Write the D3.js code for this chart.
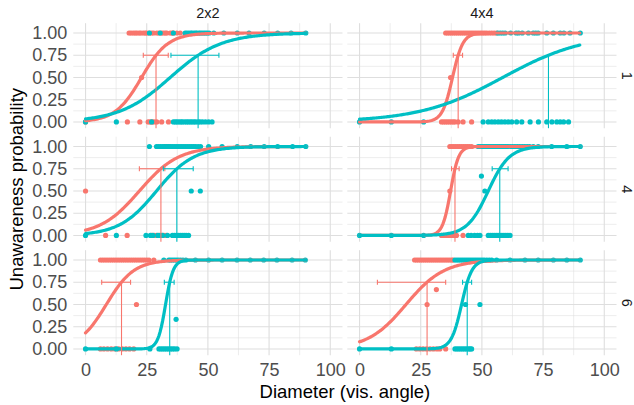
<!DOCTYPE html>
<html>
<head>
<meta charset="utf-8">
<script src="https://cdn.jsdelivr.net/npm/d3@7"></script>
<style>
  html, body { margin: 0; padding: 0; background: #fff; }
  svg { display: block; font-family: "Liberation Sans", Arial, sans-serif; }
</style>
</head>
<body>
<div id="chart-mount"></div>
<script>
var WIDTH = 634;
var HEIGHT = 405;
var COLORS = ['#F8766D', '#00BFC4'];

var SIZES = ['2x2', '4x4'];
var COUNTS = ['1', '4', '6'];
var X_TICKS = [0, 25, 50, 75, 100];
var X_MINOR = [12.5, 37.5, 62.5, 87.5];
var Y_TICKS = [0, 0.25, 0.5, 0.75, 1];
var Y_MINOR = [0.125, 0.375, 0.625, 0.875];

// panel order: 2x2/1, 4x4/1, 2x2/4, 4x4/4, 2x2/6, 4x4/6
// logistic fits (midpoint, scale)
var RED_MID = [22.9, 38.0, 22.0, 37.2, 8.5, 19.0];
var RED_SCALE = [5.4, 2.1, 8.0, 1.64, 5.62, 7.8];
var TEAL_MID = [34.6, 58.5, 29.0, 52.6, 32.7, 41.7];
var TEAL_SCALE = [10.4, 17.0, 7.6, 4.3, 1.55, 2.1];

// 75% thresholds and their intervals
var RED_THRESHOLD = [28.8, 40.3, 30.8, 39.0, 14.7, 27.6];
var TEAL_THRESHOLD = [46.0, 77.2, 37.3, 57.3, 34.4, 44.0];
var RED_CI = [[23.6, 33.8], [38.3, 42.1], [22.0, 32.4], [37.6, 40.7], [6.6, 18.4], [7.3, 35.2]];
var TEAL_CI = [[34.9, 54.5], null, [31.8, 44.0], [54.2, 60.7], [32.2, 36.2], [42.1, 45.8]];

// observed diameters answered "unaware" (y = 1) / "aware" (y = 0)
var RED_AT_ONE = [
  [17.8, 18.6, 19.5, 20.3, 21.0, 21.9, 22.6, 23.6, 24.4, 25.0, 26.0, 27.0, 27.8, 29.1, 30.0, 31.0, 31.8, 32.6, 33.2, 34.6, 35.4, 35.9, 37.3, 38.7],
  [35.2, 36.0, 36.8, 37.6, 38.4, 39.2, 40.0, 40.8, 41.6, 42.4, 43.2, 44.0, 44.8, 45.6, 46.4, 47.2, 48.0, 48.8, 49.6, 50.4, 51.2, 52.0, 53.0, 54.0, 55.0, 56.0],
  [32.5, 33.4, 34.2],
  [36.9, 37.7, 38.5, 39.3, 40.1, 40.9, 41.7, 42.5, 43.3, 44.1, 44.9, 45.8],
  [6.1, 7.0, 7.9, 8.8, 9.7, 10.6, 11.5, 12.4, 13.3, 14.2, 15.1, 16.0, 16.9, 17.8, 18.7, 19.6, 20.5, 21.4, 22.3, 23.2, 24.1, 25.0, 25.9, 27.9],
  [22.5, 23.3, 24.1, 24.9, 25.7, 26.5, 27.3, 28.1, 28.9, 29.7, 30.5, 31.3, 32.1, 32.9, 33.7, 34.5, 35.3, 36.1, 36.9, 37.7, 38.3]
];
var RED_AT_ZERO = [
  [0, 17.1, 22.2, 25.6, 26.4, 27.2, 28.0, 29.1, 31.1, 33.9],
  [33.5, 34.3, 35.1, 35.9, 36.7, 37.5, 38.3, 39.0, 40.3, 42.3, 45.8],
  [8.2, 17.0, 27.0, 28.0, 29.0, 30.0, 31.2, 32.0, 33.0],
  [33.5, 34.3, 35.1, 35.9, 36.7, 37.5, 38.3, 39.1, 39.6, 42.3],
  [6.1, 7.5, 9.0, 10.5, 12.0, 13.5, 15.0, 16.5, 18.0, 19.7],
  [23.2, 24.6, 26.0, 27.4, 28.8, 30.2, 31.6, 32.8, 35.2]
];
var RED_OTHER = [
  [[22.9, 0.5]],
  [[37.2, 0.5]],
  [[0, 0.5]],
  [[36.9, 0.5]],
  [[20.8, 0.5]],
  [[27.6, 0.5], [31.4, 0.667]]
];
var TEAL_AT_ONE = [
  [26.1, 30.5, 35.9, 40.7, 41.4, 42.2, 43.0, 43.5, 44.3, 45.0, 45.5, 46.3, 46.9, 47.6, 48.3, 49.0, 49.7, 50.5, 52.4, 56.5, 62.0, 66.8, 73.0, 78.5, 84.0, 90.0],
  [56.5, 57.5, 58.5, 59.5, 61.7, 64.0, 65.0, 66.5, 69.0, 71.0, 72.0, 73.0, 76.5, 79.2, 82.0, 83.5, 86.0, 90.2],
  [26.1, 29.0, 29.8, 30.6, 31.4, 32.2, 33.0, 33.8, 34.6, 35.4, 36.2, 37.0, 37.8, 38.6, 39.4, 40.2, 41.0, 41.8, 42.6, 43.4, 44.2, 45.0, 46.0, 47.0, 50.3, 55.8, 62.0, 67.5, 73.0, 78.5, 84.6, 90.0],
  [48.5, 49.3, 50.1, 50.9, 51.7, 52.5, 53.3, 54.1, 54.9, 55.7, 56.5, 57.3, 58.1, 58.9, 59.7, 60.5, 61.5, 62.5, 63.5, 64.5, 65.5, 66.5, 67.5, 68.5, 69.5, 71.0, 73.0, 78.5, 84.7, 90.2],
  [32.0, 34.0, 34.7, 35.5, 36.3, 37.1, 37.9, 38.8, 39.8, 41.0, 44.9, 50.3, 55.8, 61.9, 67.3, 72.8, 78.2, 84.4, 89.8],
  [39.0, 39.8, 40.6, 41.4, 42.2, 43.0, 43.8, 44.6, 45.4, 46.2, 47.0, 47.8, 48.6, 49.4, 50.2, 51.0, 52.0, 53.0, 54.0, 56.0, 61.5, 67.6, 73.0, 79.2, 84.7, 90.2]
];
var TEAL_AT_ZERO = [
  [0, 12.6, 27.0, 35.9, 36.7, 37.4, 38.2, 39.0, 39.6, 40.5, 41.3, 42.0, 42.8, 43.5, 44.3, 45.0, 46.0, 46.8, 47.8, 49.0, 50.3, 51.7],
  [0, 13.0, 26.2, 50.5, 52.6, 54.0, 55.3, 56.7, 58.0, 59.4, 60.8, 62.2, 64.2, 66.3, 69.7, 73.1, 76.5, 78.6, 80.6, 82.0, 83.4, 85.4],
  [0, 12.6, 24.7, 26.5, 27.5, 29.5, 30.5, 31.5, 33.5, 35.5, 36.3, 37.1, 37.9, 38.7, 39.5, 40.3, 41.1, 42.1],
  [0, 13.0, 26.2, 44.4, 45.6, 47.0, 48.2, 49.2, 52.6, 53.4, 54.2, 55.0, 55.8, 56.6, 57.4, 58.2, 59.0, 59.8, 60.6, 61.5],
  [0, 12.6, 26.3, 30.0, 30.8, 31.6, 32.4, 33.2, 34.0, 34.8, 35.6, 36.4, 37.4],
  [0, 13.0, 39.0, 39.8, 40.6, 41.4, 42.2, 43.0, 43.8, 44.6, 45.2, 45.8]
];
var TEAL_OTHER = [
  [],
  [],
  [[43.2, 0.5], [46.9, 0.5]],
  [[49.8, 0.667], [51.2, 0.5]],
  [[37.0, 0.333]],
  [[43.3, 0.5], [49.2, 0.5]]
];

var PANEL_LEFT = [73.3, 347.3];
var PANEL_WIDTH = 269.2;
var PANEL_TOP = [23.2, 136.7, 250.2];
var PANEL_HEIGHT = 105;
var CURVE_RANGE = [0, 90];

var $svg = d3.select('#chart-mount').append('svg')
  .attr('width', WIDTH)
  .attr('height', HEIGHT);

function xScale (col) {
  return d3.scaleLinear()
    .domain([-5, 105])
    .range([PANEL_LEFT[col], PANEL_LEFT[col] + PANEL_WIDTH]);
}

function yScale (row) {
  return d3.scaleLinear()
    .domain([-0.07, 1.11])
    .range([PANEL_TOP[row] + PANEL_HEIGHT, PANEL_TOP[row]]);
}

function logistic (mid, scale) {
  return function (x) { return 1 / (1 + Math.exp(-(x - mid) / scale)); };
}

function drawGrid ($g, x, y) {
  var x0 = x.range()[0], x1 = x.range()[1];
  var y0 = y.range()[1], y1 = y.range()[0];
  [[X_MINOR, Y_MINOR, 0.55], [X_TICKS, Y_TICKS, 1.1]].forEach(function (set) {
    $g.append('g').selectAll('line.v')
      .data(set[0])
      .enter().append('line')
        .attr('x1', x).attr('x2', x)
        .attr('y1', y0).attr('y2', y1)
        .attr('stroke', '#DEDEDE')
        .attr('stroke-width', set[2]);
    $g.append('g').selectAll('line.h')
      .data(set[1])
      .enter().append('line')
        .attr('x1', x0).attr('x2', x1)
        .attr('y1', y).attr('y2', y)
        .attr('stroke', '#DEDEDE')
        .attr('stroke-width', set[2]);
  });
}

function pointsFor (atOne, atZero, other) {
  return atOne.map(function (d) { return [d, 1]; })
    .concat(atZero.map(function (d) { return [d, 0]; }))
    .concat(other);
}

function drawPanel (i) {
  var col = i % 2;
  var row = Math.floor(i / 2);
  var x = xScale(col);
  var y = yScale(row);
  var $g = $svg.append('g');

  drawGrid($g, x, y);

  var groups = [
    { color: COLORS[0], pts: pointsFor(RED_AT_ONE[i], RED_AT_ZERO[i], RED_OTHER[i]),
      fit: logistic(RED_MID[i], RED_SCALE[i]), thr: RED_THRESHOLD[i], ci: RED_CI[i] },
    { color: COLORS[1], pts: pointsFor(TEAL_AT_ONE[i], TEAL_AT_ZERO[i], TEAL_OTHER[i]),
      fit: logistic(TEAL_MID[i], TEAL_SCALE[i]), thr: TEAL_THRESHOLD[i], ci: TEAL_CI[i] }
  ];

  groups.forEach(function (grp) {
    $g.append('g').selectAll('circle')
      .data(grp.pts)
      .enter().append('circle')
        .attr('cx', function (d) { return x(d[0]); })
        .attr('cy', function (d) { return y(d[1]); })
        .attr('r', 2.6)
        .attr('fill', grp.color);
  });

  var line = d3.line()
    .x(function (d) { return x(d); })
    .curve(d3.curveLinear);

  groups.forEach(function (grp) {
    $g.append('path')
      .datum(d3.range(CURVE_RANGE[0], CURVE_RANGE[1] + 0.01, 0.5))
      .attr('d', line.y(function (d) { return y(grp.fit(d)); }))
      .attr('fill', 'none')
      .attr('stroke', grp.color)
      .attr('stroke-width', 3.2)
      .attr('stroke-linecap', 'round');
  });

  groups.forEach(function (grp) {
    $g.append('line')
      .attr('x1', x(grp.thr)).attr('x2', x(grp.thr))
      .attr('y1', y.range()[0]).attr('y2', y(0.75))
      .attr('stroke', grp.color)
      .attr('stroke-width', 1.1);
    if (!grp.ci) return;
    var yy = y(0.75);
    var $bar = $g.append('g')
      .attr('stroke', grp.color)
      .attr('stroke-width', 1.1);
    $bar.append('line')
      .attr('x1', x(grp.ci[0])).attr('x2', x(grp.ci[1]))
      .attr('y1', yy).attr('y2', yy);
    $bar.selectAll('line.cap')
      .data(grp.ci)
      .enter().append('line')
        .attr('x1', x).attr('x2', x)
        .attr('y1', yy - 2.4).attr('y2', yy + 2.4);
  });

  // y axis labels on the left column, x axis labels on the bottom row
  if (col === 0) {
    var $yAxis = $svg.append('g')
      .attr('transform', 'translate(' + (PANEL_LEFT[0] - 2) + ',0)')
      .call(d3.axisLeft(y).tickValues(Y_TICKS).tickFormat(d3.format('.2f')).tickSize(0).tickPadding(4));
    $yAxis.select('.domain').remove();
    $yAxis.selectAll('text')
      .attr('fill', '#4D4D4D')
      .style('font-size', '18px')
      .style('font-family', '"Liberation Sans", Arial, sans-serif');
  }
  if (row === 2) {
    var $xAxis = $svg.append('g')
      .attr('transform', 'translate(0,' + (y.range()[0] + 4) + ')')
      .call(d3.axisBottom(x).tickValues(X_TICKS).tickFormat(d3.format('d')).tickSize(0).tickPadding(4));
    $xAxis.select('.domain').remove();
    $xAxis.selectAll('text')
      .attr('fill', '#4D4D4D')
      .style('font-size', '18px')
      .style('font-family', '"Liberation Sans", Arial, sans-serif');
  }
}

function drawStrips () {
  $svg.selectAll('text.size')
    .data(SIZES)
    .enter().append('text')
      .attr('x', function (d, i) { return PANEL_LEFT[i] + PANEL_WIDTH / 2; })
      .attr('y', 18.3)
      .attr('text-anchor', 'middle')
      .attr('fill', '#1A1A1A')
      .style('font-size', '14.5px')
      .text(function (d) { return d; });

  $svg.selectAll('text.count')
    .data(COUNTS)
    .enter().append('text')
      .attr('transform', function (d, i) {
        return 'translate(622,' + (PANEL_TOP[i] + PANEL_HEIGHT / 2) + ') rotate(90)';
      })
      .attr('text-anchor', 'middle')
      .attr('fill', '#1A1A1A')
      .style('font-size', '14.5px')
      .text(function (d) { return d; });
}

function drawTitles () {
  $svg.append('text')
    .attr('x', PANEL_LEFT[0] + (PANEL_LEFT[1] + PANEL_WIDTH - PANEL_LEFT[0]) / 2)
    .attr('y', 397.5)
    .attr('text-anchor', 'middle')
    .attr('fill', '#000')
    .style('font-size', '18.5px')
    .text('Diameter (vis. angle)');

  $svg.append('text')
    .attr('transform', 'translate(23,' + (PANEL_TOP[0] + (PANEL_TOP[2] + PANEL_HEIGHT - PANEL_TOP[0]) / 2) + ') rotate(-90)')
    .attr('text-anchor', 'middle')
    .attr('fill', '#000')
    .style('font-size', '18.5px')
    .text('Unawareness probability');
}

d3.range(6).forEach(drawPanel);
drawStrips();
drawTitles();
</script>
</body>
</html>
